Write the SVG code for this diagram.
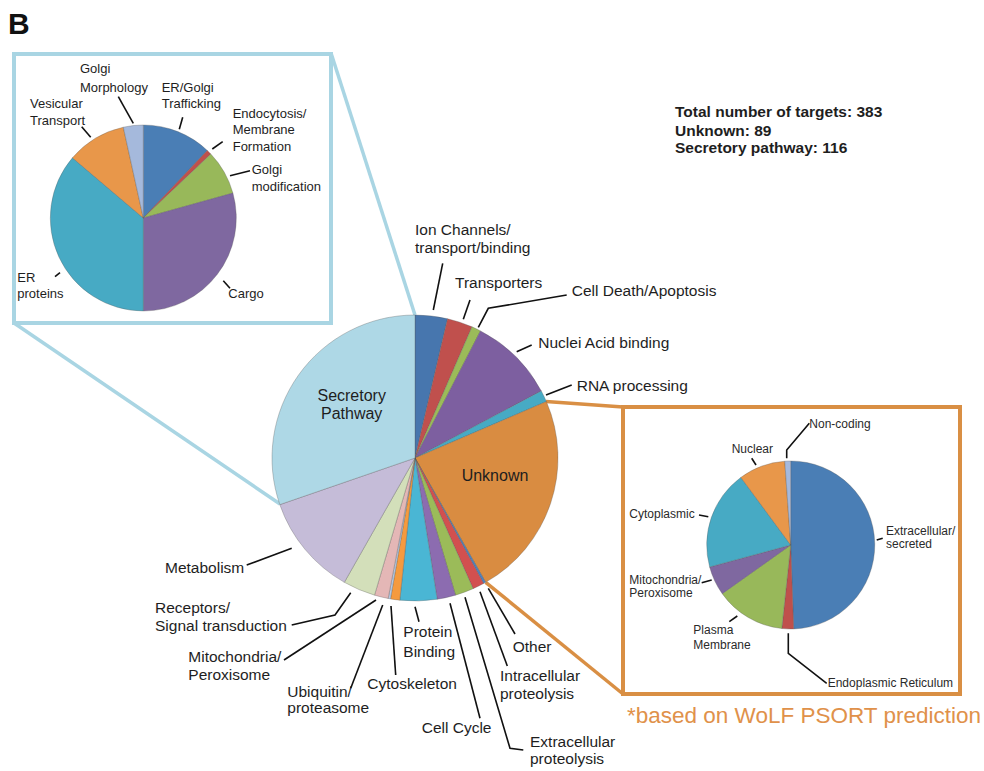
<svg xmlns="http://www.w3.org/2000/svg" width="984" height="771" viewBox="0 0 984 771">
<style>
text{font-family:"Liberation Sans",Arial,sans-serif;fill:#1e1e1e}
.m{font-size:15.5px}
.s{font-size:13px}
.r{font-size:12px;fill:#2a2a2a}
.b{font-weight:bold;font-size:15.5px}
.ld{fill:none;stroke:#111;stroke-width:1.6}
.sl{stroke:#555;stroke-opacity:0.45;stroke-width:0.7}
</style>
<rect width="984" height="771" fill="#fff"/>
<text x="8" y="34" style="font-size:30px;font-weight:bold;fill:#111">B</text>

<g id="stats">
<text class="b" x="675" y="117.3">Total number of targets: 383</text>
<text class="b" x="675" y="135.7">Unknown: 89</text>
<text class="b" x="675" y="153.3">Secretory pathway: 116</text>
</g>

<g id="connectors">
<line x1="331" y1="53" x2="415" y2="315" stroke="#A9D5E3" stroke-width="3.5"/>
<line x1="14" y1="323" x2="280" y2="504" stroke="#A9D5E3" stroke-width="3.5"/>
<line x1="546" y1="401.5" x2="623" y2="407" stroke="#D98F44" stroke-width="3.5"/>
<line x1="485.7" y1="582.3" x2="623" y2="694" stroke="#D98F44" stroke-width="3.5"/>
</g>

<g id="main-pie">
<path class="sl" fill="#4776AE" d="M415,458 L415,315 A143,143 0 0 1 447.56,318.76 Z"/>
<path class="sl" fill="#C0504D" d="M415,458 L447.56,318.76 A143,143 0 0 1 472.02,326.85 Z"/>
<path class="sl" fill="#9BBB59" d="M415,458 L472.02,326.85 A143,143 0 0 1 480.49,330.89 Z"/>
<path class="sl" fill="#7D5FA0" d="M415,458 L480.49,330.89 A143,143 0 0 1 541.30,390.95 Z"/>
<path class="sl" fill="#47AAC4" d="M415,458 L541.30,390.95 A143,143 0 0 1 546.37,401.53 Z"/>
<path class="sl" fill="#D98C41" d="M415,458 L546.37,401.53 A143,143 0 0 1 485.66,582.32 Z"/>
<path class="sl" fill="#4F81BD" d="M415,458 L485.66,582.32 A143,143 0 0 1 483.60,583.47 Z"/>
<path class="sl" fill="#D2504F" d="M415,458 L483.60,583.47 A143,143 0 0 1 473.09,588.67 Z"/>
<path class="sl" fill="#9BBB59" d="M415,458 L473.09,588.67 A143,143 0 0 1 455.50,595.15 Z"/>
<path class="sl" fill="#8C6CB0" d="M415,458 L455.50,595.15 A143,143 0 0 1 437.19,599.27 Z"/>
<path class="sl" fill="#4AB6D4" d="M415,458 L437.19,599.27 A143,143 0 0 1 399.78,600.19 Z"/>
<path class="sl" fill="#F59A3E" d="M415,458 L399.78,600.19 A143,143 0 0 1 390.49,598.88 Z"/>
<path class="sl" fill="#B6C9E2" d="M415,458 L390.49,598.88 A143,143 0 0 1 388.17,598.46 Z"/>
<path class="sl" fill="#E4B7B6" d="M415,458 L388.17,598.46 A143,143 0 0 1 374.50,595.15 Z"/>
<path class="sl" fill="#D3DFBA" d="M415,458 L374.50,595.15 A143,143 0 0 1 344.34,582.32 Z"/>
<path class="sl" fill="#C5BCD8" d="M415,458 L344.34,582.32 A143,143 0 0 1 279.81,504.62 Z"/>
<path class="sl" fill="#AED8E6" d="M415,458 L279.81,504.62 A143,143 0 0 1 415,315 Z"/>
<text x="351.7" y="401" text-anchor="middle" style="font-size:16px">Secretory</text>
<text x="351.7" y="419" text-anchor="middle" style="font-size:16px">Pathway</text>
<text x="495" y="481" text-anchor="middle" style="font-size:16px">Unknown</text>
</g>

<g id="main-labels">
<text class="m" x="415" y="235">Ion Channels/</text>
<text class="m" x="415" y="253.3">transport/binding</text>
<polyline class="ld" points="442.7,263.3 433.3,310"/>
<text class="m" x="455" y="288.3">Transporters</text>
<polyline class="ld" points="470,300 463.3,319.3"/>
<text class="m" x="571.7" y="296">Cell Death/Apoptosis</text>
<polyline class="ld" points="566.7,295 488.3,308.3 478.3,327.3"/>
<text class="m" x="538.3" y="347.7">Nuclei Acid binding</text>
<polyline class="ld" points="531.7,345 516.7,351.7"/>
<text class="m" x="576.7" y="390.7">RNA processing</text>
<polyline class="ld" points="571.7,385 546,395"/>
<text class="m" x="165" y="572.7">Metabolism</text>
<polyline class="ld" points="246.7,565 291.7,548.3"/>
<text class="m" x="155" y="613.3">Receptors/</text>
<text class="m" x="155" y="631">Signal transduction</text>
<polyline class="ld" points="291.7,625 335,615 350.7,592.7"/>
<text class="m" x="188.3" y="661.7">Mitochondria/</text>
<text class="m" x="188.3" y="680">Peroxisome</text>
<polyline class="ld" points="284,660 376,600"/>
<text class="m" x="287.3" y="696.7">Ubiquitin/</text>
<text class="m" x="287.3" y="712.7">proteasome</text>
<polyline class="ld" points="350.7,688.3 382.7,605"/>
<text class="m" x="367.3" y="689.3">Cytoskeleton</text>
<polyline class="ld" points="395.7,675 391,606"/>
<text class="m" x="403.3" y="637.3">Protein</text>
<text class="m" x="403.3" y="656.7">Binding</text>
<polyline class="ld" points="415,606.7 419,621.7"/>
<text class="m" x="421.7" y="733.3">Cell Cycle</text>
<polyline class="ld" points="450,603.3 480,718.3"/>
<text class="m" x="530" y="746.7">Extracellular</text>
<text class="m" x="530" y="764">proteolysis</text>
<polyline class="ld" points="465,597.3 510,748.3 523.3,750"/>
<text class="m" x="500" y="680.7">Intracellular</text>
<text class="m" x="500" y="699.3">proteolysis</text>
<polyline class="ld" points="480,591.7 507.3,666"/>
<text class="m" x="512.7" y="651.7">Other</text>
<polyline class="ld" points="488.3,588.3 515,634"/>
</g>

<g id="secretory-inset">
<rect x="14" y="54" width="317" height="269" fill="none" stroke="#A9D5E3" stroke-width="4"/>
<path class="sl" fill="#4A7EB5" d="M143.3,218 L143.3,125 A93,93 0 0 1 207.27,150.49 Z"/>
<path class="sl" fill="#BF504C" d="M143.3,218 L207.27,150.49 A93,93 0 0 1 210.81,154.03 Z"/>
<path class="sl" fill="#98B85A" d="M143.3,218 L210.81,154.03 A93,93 0 0 1 232.91,193.11 Z"/>
<path class="sl" fill="#7F68A0" d="M143.3,218 L232.91,193.11 A93,93 0 0 1 143.3,311 Z"/>
<path class="sl" fill="#47AAC4" d="M143.3,218 L143.3,311 A93,93 0 0 1 72.42,157.80 Z"/>
<path class="sl" fill="#E8974A" d="M143.3,218 L72.42,157.80 A93,93 0 0 1 123.31,127.18 Z"/>
<path class="sl" fill="#A5B9DC" d="M143.3,218 L123.31,127.18 A93,93 0 0 1 143.3,125 Z"/>
<text class="s" x="80" y="73.3">Golgi</text>
<text class="s" x="80" y="91.7">Morphology</text>
<polyline class="ld" points="118.3,96.7 133.3,123.3"/>
<text class="s" x="161.7" y="91.7">ER/Golgi</text>
<text class="s" x="161.7" y="108.3">Trafficking</text>
<polyline class="ld" points="182.7,117.3 179.3,129.3"/>
<text class="s" x="30" y="108.3">Vesicular</text>
<text class="s" x="30" y="125">Transport</text>
<polyline class="ld" points="81.7,126.7 90.7,137.3"/>
<text class="s" x="232.7" y="118.3">Endocytosis/</text>
<text class="s" x="232.7" y="134">Membrane</text>
<text class="s" x="232.7" y="150.7">Formation</text>
<polyline class="ld" points="222.7,141.7 212.3,149"/>
<text class="s" x="251.7" y="174">Golgi</text>
<text class="s" x="251.7" y="190.7">modification</text>
<polyline class="ld" points="250,170.7 230,175.7"/>
<text class="s" x="17.3" y="281.7">ER</text>
<text class="s" x="17.3" y="298.3">proteins</text>
<polyline class="ld" points="55,276.7 60,272.7"/>
<text class="s" x="228.3" y="298.3">Cargo</text>
<polyline class="ld" points="223.3,280.7 230,288.3"/>
</g>

<g id="unknown-inset">
<rect x="623" y="407" width="337" height="287" fill="none" stroke="#D98F44" stroke-width="4"/>
<path class="sl" fill="#4A7EB5" d="M790.7,545 L790.7,461 A84,84 0 0 1 793.66,628.95 Z"/>
<path class="sl" fill="#BF504C" d="M790.7,545 L793.66,628.95 A84,84 0 0 1 781.82,628.53 Z"/>
<path class="sl" fill="#98B85A" d="M790.7,545 L781.82,628.53 A84,84 0 0 1 722.21,593.64 Z"/>
<path class="sl" fill="#7F68A0" d="M790.7,545 L722.21,593.64 A84,84 0 0 1 709.62,566.98 Z"/>
<path class="sl" fill="#47AAC4" d="M790.7,545 L709.62,566.98 A84,84 0 0 1 740.85,477.39 Z"/>
<path class="sl" fill="#E8974A" d="M790.7,545 L740.85,477.39 A84,84 0 0 1 784.78,461.21 Z"/>
<path class="sl" fill="#A5B9DC" d="M790.7,545 L784.78,461.21 A84,84 0 0 1 790.7,461 Z"/>
<text class="r" x="809.3" y="428.3">Non-coding</text>
<polyline class="ld" points="809.3,423.3 786.7,450 786.7,458.3"/>
<text class="r" x="731.7" y="453.3">Nuclear</text>
<polyline class="ld" points="751.7,458.3 756,465"/>
<text class="r" x="629.3" y="518.3">Cytoplasmic</text>
<polyline class="ld" points="699,515 708.3,516.7"/>
<text class="r" x="886" y="535">Extracellular/</text>
<text class="r" x="886" y="548.3">secreted</text>
<polyline class="ld" points="876.7,540 882.7,538.3"/>
<text class="r" x="629.3" y="584.3">Mitochondria/</text>
<text class="r" x="629.3" y="596.7">Peroxisome</text>
<polyline class="ld" points="701.7,582.7 711.7,580"/>
<text class="r" x="693.3" y="634">Plasma</text>
<text class="r" x="693.3" y="649.3">Membrane</text>
<polyline class="ld" points="729.3,621.7 737.3,616"/>
<text class="r" x="827.7" y="686.7">Endoplasmic Reticulum</text>
<polyline class="ld" points="826.7,683.3 788.3,653.3 788.3,633.3"/>
<text x="627" y="723" style="font-size:22.5px;fill:#E0914A">*based on WoLF PSORT prediction</text>
</g>
</svg>
